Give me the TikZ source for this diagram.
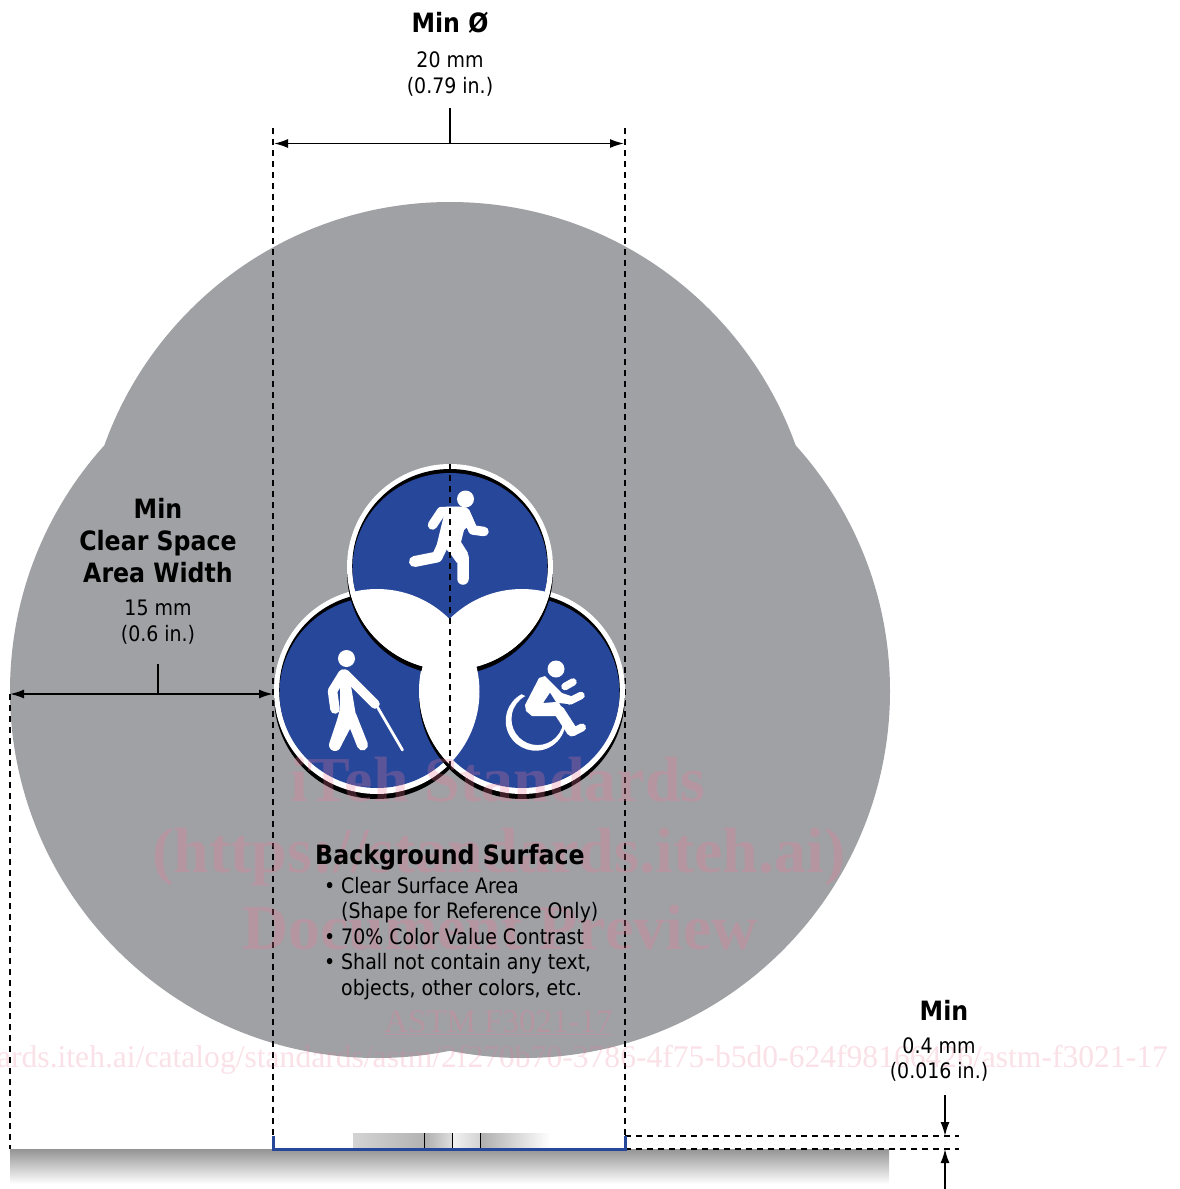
\documentclass[tikz,border=0pt]{standalone}
\usepackage{fontspec}
\setmainfont{DejaVu Sans}[FakeStretch=0.89]
\newfontfamily\wmfont{Liberation Serif}
\usetikzlibrary{arrows.meta}
\definecolor{surf}{HTML}{A0A1A5}
\definecolor{sblue}{HTML}{27479B}
\definecolor{wmark}{RGB}{236,120,150}
\newcommand{\ringstack}[2]{%
  \fill[black] (#1,#2+5) circle[radius=103pt];
  \fill[white] (#1,#2) circle[radius=103pt];
  \fill[black] (#1,#2-1) ellipse[x radius=97.8pt,y radius=97pt];
  \fill[sblue] (#1,#2+1.5) ellipse[x radius=97.5pt,y radius=95.5pt];
}
\tikzset{
  guide/.style={black,line width=1.8pt,dash pattern=on 6pt off 5pt},
  dim/.style={black,line width=1.6pt},
  dimarrow/.style={dim,{Latex[length=14pt,width=9pt]}-{Latex[length=14pt,width=9pt]}},
  endarrow/.style={dim,-{Latex[length=14pt,width=9pt]}},
  head/.style={font=\bfseries\fontsize{26.6}{32}\selectfont,align=center,text=black,inner sep=0pt},
  val/.style={font=\fontsize{21.3}{25.5}\selectfont,align=center,text=black,inner sep=0pt},
  wm/.style={font=\wmfont\bfseries\fontsize{64}{68}\selectfont,text=wmark,opacity=.27,inner sep=0pt},
  wms/.style={font=\wmfont\fontsize{31.6}{35}\selectfont,text=wmark,opacity=.22,inner sep=0pt},
  limb/.style={white,line cap=round,line join=round},
}
\begin{document}
\begin{tikzpicture}[x=1pt,y=-1pt]
\useasboundingbox (0,0) rectangle (1180,1189);
\fill[white] (0,0) rectangle (1180,1189);
% clear surface
\fill[surf] (450,569) circle[radius=367pt] (377,691) circle[radius=367pt] (523,691) circle[radius=367pt];
% base
\shade[top color=black!42,bottom color=white] (10,1149) rectangle (889,1184);
\shade[left color=black!17,right color=black!30] (353,1133) rectangle (424,1148);
\shade[left color=black!32,right color=black!13] (424,1133) rectangle (452,1148);
\shade[left color=black!5,right color=black!17] (452,1133) rectangle (480,1148);
\shade[left color=black!32,right color=white] (480,1133) rectangle (550,1148);
\coordinate (t1t) at (424,1133); \coordinate (t1b) at (424,1148);
\coordinate (t2t) at (452,1133); \coordinate (t2b) at (452,1148);
\coordinate (t3t) at (480,1133); \coordinate (t3b) at (480,1148);
\draw[black,line width=1pt] (t1t)--(t1b) (t2t)--(t2b) (t3t)--(t3b);
% guides
\coordinate (gl) at (273,128); \coordinate (glb) at (273,1136);
\coordinate (gr) at (625,128); \coordinate (grb) at (625,1136);
\coordinate (gf) at (10,694);  \coordinate (gfb) at (10,1149);
\coordinate (gc) at (450,464); \coordinate (gcb) at (450,767);
\draw[guide] (gl)--(glb);
\draw[guide] (gr)--(grb);
\draw[guide] (gf)--(gfb);
% symbol
\ringstack{377}{691}
\ringstack{522}{691}
\ringstack{450}{567}
\begin{scope}
  \clip (377,691.5) circle[radius=102.5pt];
  \fill[white] (522,691.5) circle[radius=102.5pt];
\end{scope}
\begin{scope}
  \clip (450,567) circle[radius=103pt];
  \fill[white] (377,691.5) circle[radius=102.5pt];
  \fill[white] (522,691.5) circle[radius=102.5pt];
\end{scope}
% runner
\fill[white] (465.5,499) circle[radius=8.5pt];
\fill[limb] (446,506.5) -- (465,506.5) -- (473,522) -- (464,530) -- (461,542) -- (468,553) -- (457,563) -- (447,549) -- (435,552) -- cycle;
\draw[limb,line width=9.5pt] (432.5,525) -- (441.5,511.5) -- (458,511.5);
\draw[limb,line width=9.5pt] (465,512) -- (473,530) -- (484,531.5);
\draw[limb,line width=11pt] (450,530) -- (437,557) -- (414.5,561.5);
\draw[limb,line width=11.5pt] (451,546) -- (463,557) -- (463,579);
% walker
\fill[white] (346.5,658.5) circle[radius=8.5pt];
\fill[limb] (340,674) -- (349,674) -- (356,716) -- (352,725) -- (341,746) -- (333,740) -- (340,708) -- cycle;
\draw[limb,line width=9.5pt] (343,674) -- (332.5,691) -- (335,709);
\draw[limb,line width=9.5pt] (345,674) -- (375,704);
\draw[limb,line width=12pt] (346,712) -- (335,745);
\draw[limb,line width=11pt] (351,716) -- (362.5,745);
\draw[limb,line width=2.8pt] (378,708) -- (402.5,750);
% wheelchair
\fill[white] (556,669) circle[radius=8.5pt];
\fill[white] (521.6,694.2) arc[start angle=118,end angle=349,radius=30pt] -- (563,724) arc[start angle=349,end angle=118,radius=26pt] -- cycle;
\fill[limb,even odd rule] (539,678) -- (545,676) -- (562,693) -- (571,696) -- (568,704) -- (559,703) -- (566,714) -- (560,716) -- (532,716) -- (526,711) -- (525,705) -- cycle
  (550,692.5) -- (543,703) -- (556,702) -- cycle;
\draw[limb,line width=11pt] (559,711) -- (572,731);
\draw[limb,line width=8pt] (573,732) -- (582,727.5);
\draw[limb,line width=7.5pt] (565,686.5) -- (573,682);
\draw[limb,line width=7.5pt] (570,701) -- (581,695.5);
% centre line of the symbol
\draw[guide] (gc)--(gcb);
% watermark
\begin{scope}
  \clip (0,0) rectangle (1180,1189);
  \node[wm] (wm1) at (498,780) {iTeh Standards};
  \node[wm] (wm2) at (499,857) {(https://standards.iteh.ai)};
  \node[wm] (wm3) at (500,928) {Document Preview};
  \node[wms,opacity=.27,font=\wmfont\fontsize{33}{36}\selectfont] (wm4) at (498.5,1023) {\underline{ASTM F3021-17}};
  \node[wms,anchor=east] (wm5) at (1168,1060) {https://standards.iteh.ai/catalog/standards/astm/2f270b70-3786-4f75-b5d0-624f98166426/astm-f3021-17};
\end{scope}
% dimensions
\coordinate (dal) at (274,143.5); \coordinate (dar) at (624,143.5);
\coordinate (dam) at (450,143.5); \coordinate (dat) at (450,108);
\draw[dimarrow] (dal)--(dar);
\draw[dim] (dat)--(dam);
\coordinate (dbl) at (10,694); \coordinate (dbr) at (273,694);
\coordinate (dbm) at (158,694); \coordinate (dbt) at (158,664);
\draw[dimarrow] (dbl)--(dbr);
\draw[dim] (dbt)--(dbm);
\coordinate (l1a) at (625,1136); \coordinate (l1b) at (959,1136);
\coordinate (l2a) at (625,1149); \coordinate (l2b) at (959,1149);
\draw[guide] (l1a)--(l1b);
\draw[guide] (l2a)--(l2b);
\coordinate (a1s) at (945,1095); \coordinate (a1e) at (945,1136);
\coordinate (a2s) at (945,1189); \coordinate (a2e) at (945,1149);
\draw[endarrow] (a1s)--(a1e);
\draw[endarrow] (a2s)--(a2e);
% blue contact line
\coordinate (bu1) at (273,1136); \coordinate (bu2) at (273,1149);
\coordinate (bu3) at (625,1149); \coordinate (bu4) at (625,1136);
\draw[sblue,line width=3pt] (bu1)--(bu2)--(bu3)--(bu4);
% labels
\node[head] (h1) at (450,23) {Min Ø};
\node[val] (v1) at (450,74) {20 mm\\(0.79 in.)};
\node[head] (h2) at (158,541) {Min\\Clear Space\\Area Width};
\node[val] (v2) at (158,622) {15 mm\\(0.6 in.)};
\node[head] (h3) at (450,857) {Background Surface};
\node[val,align=left,anchor=north west] (v3) at (341,877) {\llap{•\hspace{6pt}}Clear Surface Area\\(Shape for Reference Only)\\\llap{•\hspace{6pt}}70\% Color Value Contrast\\\llap{•\hspace{6pt}}Shall not contain any text,\\objects, other colors, etc.};
\node[head] (h4) at (944,1010) {Min};
\node[val] (v4) at (939,1059.5) {0.4 mm\\(0.016 in.)};
\end{tikzpicture}
\end{document}
